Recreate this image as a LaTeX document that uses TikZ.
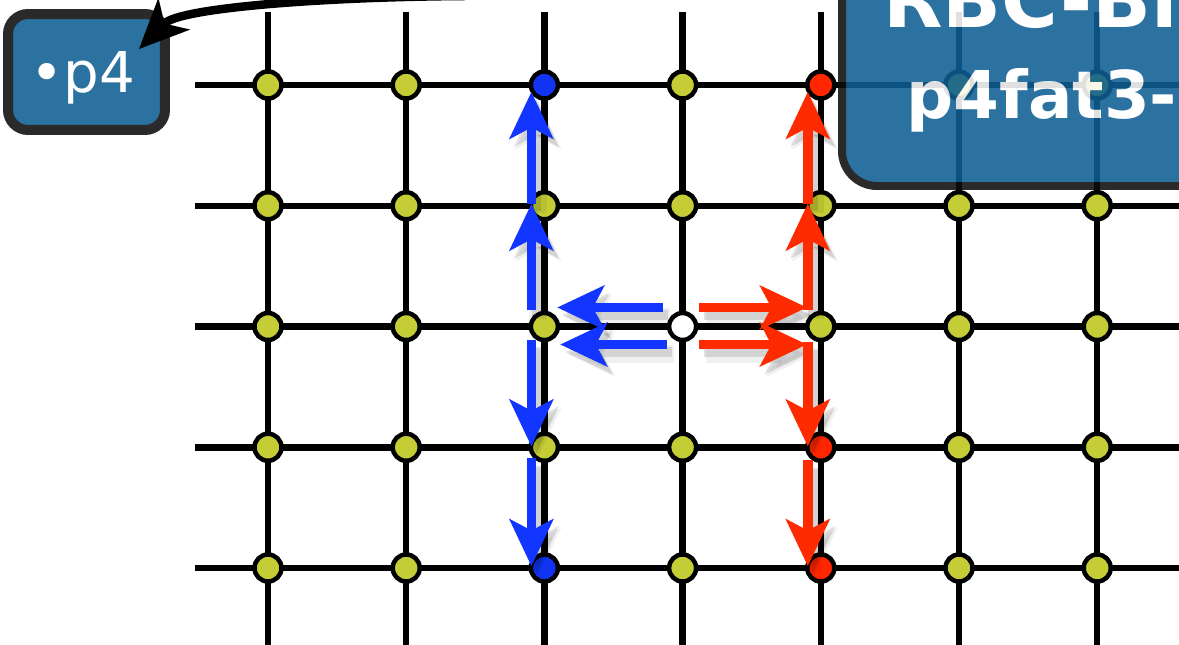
\documentclass[tikz,border=0pt]{standalone}
\usepackage{fontspec}
\setmainfont{DejaVu Sans}
\usetikzlibrary{arrows.meta,calc}
\definecolor{pearl}{HTML}{C4CD35}
\definecolor{siteblue}{HTML}{1034F2}
\definecolor{sitered}{HTML}{FF2600}
\definecolor{flowblue}{HTML}{1236FF}
\definecolor{flowred}{HTML}{FF2B00}
\definecolor{slate}{HTML}{2B72A0}
\definecolor{deepslate}{HTML}{0E5E93}
\definecolor{rim}{HTML}{2A2A2A}

\tikzset{
  wire/.style={line width=0.13cm},
  site/.style={circle,draw=black,line width=0.09cm,fill=pearl,minimum size=0.54cm,inner sep=0pt},
  s31/.style={fill=siteblue}, s35/.style={fill=siteblue},
  s51/.style={fill=sitered}, s54/.style={fill=sitered}, s55/.style={fill=sitered},
  s43/.style={fill=white},
  flow/.style={line width=0.19cm,-{Stealth[length=0.95cm,width=0.9cm,inset=0.24cm,line width=0pt]}},
  flowshade/.style={flow,black,opacity=0.12,transform canvas={xshift=0.1cm,yshift=-0.15cm}},
  flowhalo/.style={line width=0.36cm,black,opacity=0.06,
    -{Stealth[length=0.95cm,width=0.9cm,inset=0.24cm,line width=0.16cm]},
    transform canvas={xshift=0.14cm,yshift=-0.19cm}},
  tag/.style={rounded corners=0.4cm,draw=rim,line width=0.2cm,fill=slate,text=white,inner sep=0pt},
  pointer/.style={line width=0.17cm,-{Stealth[length=1cm,width=0.9cm,inset=0.28cm,line width=0pt]}}
}

% the two groups of arrows, #1 for the left (blue) ones, #2 for the right (red) ones
\newcommand\flowpaths[2]{%
  \draw[#1] ($(n43)+(-20,-19)$) -- ($(n33)+(13,-19)$);
  \draw[#1] ($(n43)+(-16,18)$) -- ($(n33)+(16,18)$);
  \draw[#1] ($(n33)+(-13,-17)$) -- ($(n32)+(-13,-2)$);
  \draw[#1] ($(n32)+(-13,-2)$) -- ($(n31)+(-13,7)$);
  \draw[#1] ($(n33)+(-13,13)$) -- ($(n34)+(-13,-1)$);
  \draw[#1] ($(n34)+(-13,11)$) -- ($(n35)+(-13,-2)$);
  \draw[#2] ($(n43)+(16,-19)$) -- ($(n53)+(-14,-19)$);
  \draw[#2] ($(n43)+(16,18)$) -- ($(n53)+(-14,18)$);
  \draw[#2] ($(n53)+(-13,-17)$) -- ($(n52)+(-13,-2)$);
  \draw[#2] ($(n52)+(-13,-2)$) -- ($(n51)+(-13,7)$);
  \draw[#2] ($(n53)+(-13,15)$) -- ($(n54)+(-13,-1)$);
  \draw[#2] ($(n54)+(-13,13)$) -- ($(n55)+(-13,-2)$);
}

\begin{document}
\begin{tikzpicture}[x=0.02cm,y=-0.02cm]
\useasboundingbox (0,0) rectangle (1179,645);
% lattice
\foreach \i in {1,...,7}
  \draw[wire] ({268+138.2*(\i-1)},12) -- ({268+138.2*(\i-1)},660);
\foreach \j in {1,...,5}
  \draw[wire] (195,{85+120.75*(\j-1)}) -- (1200,{85+120.75*(\j-1)});
\foreach \i in {1,...,7}
  \foreach \j in {1,...,5}
    \node[site,s\i\j/.try] (n\i\j) at ({268+138.2*(\i-1)},{85+120.75*(\j-1)}) {};
% block label, seen through
\begin{scope}[transparency group,opacity=0.88]
\node[tag,fill=deepslate,draw=black!95,rounded corners=0.7cm,line width=0.16cm,minimum width=12cm,minimum height=5cm,anchor=south west] (rbc) at (838,190) {};
\node[anchor=base west,inner sep=0pt,text=white,font=\bfseries\fontsize{44pt}{48pt}\selectfont] (rbchead) at (883,28) {RBC-Blo};
\node[anchor=base west,inner sep=0pt,text=white,font=\bfseries\fontsize{37.5pt}{42pt}\selectfont] (rbcname) at (906,119) {p4fat3-};
\end{scope}
% arrows
\flowpaths{flowhalo}{flowhalo}
\flowpaths{flowshade}{flowshade}
\flowpaths{flow,flowblue}{flow,flowred}
% small tag
\node[tag,minimum width=3.14cm,minimum height=2.32cm,text depth=0pt,font=\fontsize{32pt}{38pt}\selectfont] (p4) at (86.5,72) {\hspace*{-0.15cm}•p4};
\coordinate (feed) at (465,-4);
\draw[pointer] (feed) .. controls (320,-3) and (180,8) .. ($(p4.north east)+(-31,40)$);
\end{tikzpicture}
\end{document}
